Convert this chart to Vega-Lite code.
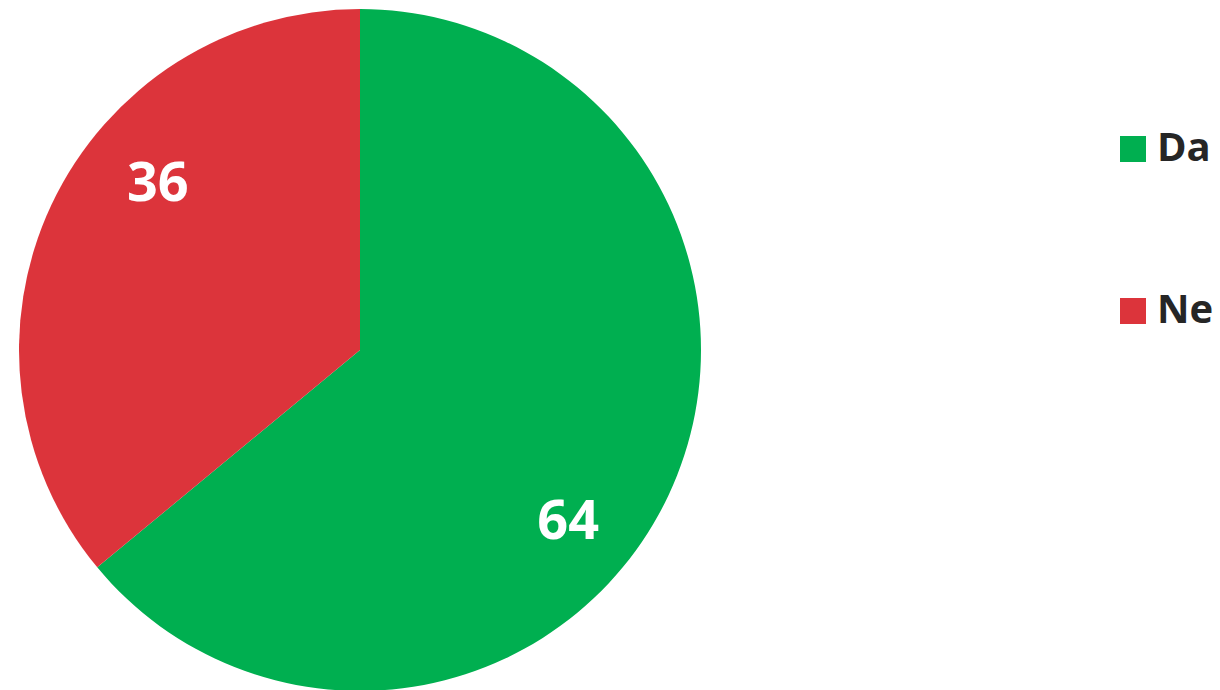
{
  "$schema": "https://vega.github.io/schema/vega-lite/v6.json",
  "width": 720,
  "height": 700,
  "padding": 0,
  "background": "white",
  "config": {"view": {"stroke": null}, "font": "Open Sans"},
  "data": {"values": [
    {"kategorija": "Da", "vrijednost": 64},
    {"kategorija": "Ne", "vrijednost": 36}
  ]},
  "encoding": {
    "theta": {"field": "vrijednost", "type": "quantitative", "stack": true},
    "order": {"field": "kategorija", "type": "nominal", "sort": "ascending"}
  },
  "layer": [
    {
      "mark": {"type": "arc", "outerRadius": 341},
      "encoding": {
        "color": {
          "field": "kategorija", "type": "nominal",
          "scale": {"domain": ["Da", "Ne"], "range": ["#00AF50", "#DC343B"]},
          "legend": {
            "title": null,
            "orient": "none",
            "legendX": 1113,
            "legendY": 129,
            "padding": 0,
            "symbolType": "square",
            "symbolSize": 676,
            "symbolStrokeWidth": 0,
            "labelFontSize": 40,
            "labelFont": "Open Sans",
            "labelFontWeight": "bold",
            "labelColor": "#262626",
            "labelOffset": 4,
            "labelLimit": 0,
            "rowPadding": 122
          }
        }
      }
    },
    {
      "mark": {"type": "text", "radius": 266, "thetaOffset": 0.25, "dx": 3, "dy": 4, "fontSize": 54, "fontWeight": "bold", "font": "Open Sans", "color": "white", "baseline": "middle", "align": "center"},
      "encoding": {
        "text": {"field": "vrijednost", "type": "quantitative"}
      }
    }
  ]
}
